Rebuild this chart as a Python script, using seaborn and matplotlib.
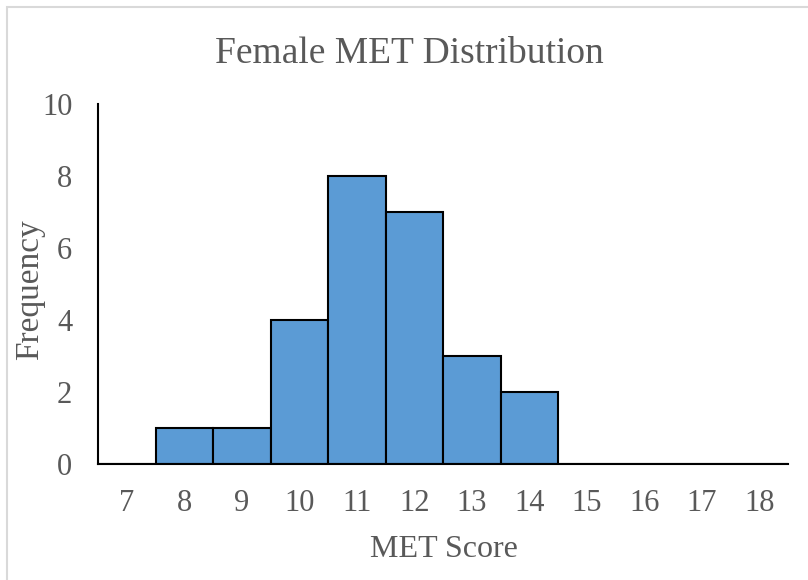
import matplotlib
matplotlib.use("Agg")
import matplotlib.pyplot as plt
import seaborn as sns
import pandas as pd
from matplotlib.patches import Rectangle

# MET score bins and how many female participants fall in each
met_scores = ["7", "8", "9", "10", "11", "12", "13", "14", "15", "16", "17", "18"]
frequency = [0, 1, 1, 4, 8, 7, 3, 2, 0, 0, 0, 0]
y_ticks = [0, 2, 4, 6, 8, 10]

sns.set_theme(style="white")
plt.rcParams["font.family"] = ["Liberation Serif", "DejaVu Serif"]

text_color = "#595959"
bar_color = "#5B9BD5"

df = pd.DataFrame({"MET Score": met_scores, "Frequency": frequency})

fig = plt.figure(figsize=(8.08, 5.80), dpi=100)
ax = fig.add_axes([98 / 808, 116 / 580, 690 / 808, 360 / 580])

sns.barplot(data=df, x="MET Score", y="Frequency", order=met_scores,
            color=bar_color, saturation=1, width=1.0,
            edgecolor="black", linewidth=1.5, ax=ax)

ax.set_xlim(-0.5, len(met_scores) - 0.5)
ax.set_ylim(0, 10)
ax.set_yticks(y_ticks)
ax.set_yticklabels([str(t) for t in y_ticks])

for side in ("top", "right"):
    ax.spines[side].set_visible(False)
for side in ("left", "bottom"):
    ax.spines[side].set_color("black")
    ax.spines[side].set_linewidth(1.5)

ax.tick_params(axis="both", length=0, labelsize=22, colors=text_color)
ax.tick_params(axis="y", pad=18.5)
ax.tick_params(axis="x", pad=18)

ax.set_xlabel("")
ax.set_ylabel("")
fig.text(443.5 / 808, 1 - 557 / 580, "MET Score", ha="center", va="baseline",
         fontsize=23, color=text_color)
fig.text(30 / 808, 1 - 290 / 580, "Frequency", ha="center", va="center",
         rotation=90, fontsize=24, color=text_color)
fig.text(409.5 / 808, 1 - 63 / 580, "Female MET Distribution", ha="center",
         va="baseline", fontsize=27, color=text_color)

# light chart-area frame
fig.patches.append(Rectangle((6.5 / 808, -0.1), 1.2, 1.1 - 6.5 / 580,
                             transform=fig.transFigure, fill=False,
                             edgecolor="#d9d9d9", linewidth=1.5))

fig.savefig("out.png", dpi=100)
